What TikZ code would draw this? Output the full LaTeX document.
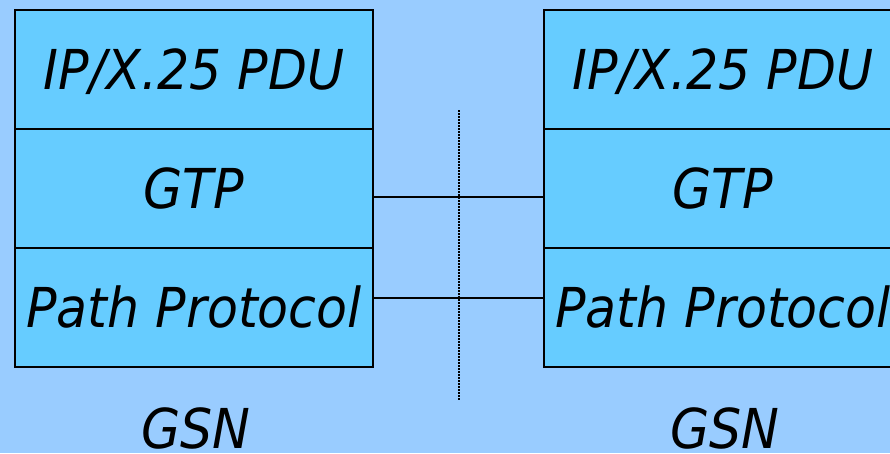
\documentclass[tikz,border=0pt]{standalone}
\usepackage{fontspec}
\setmainfont{DejaVu Sans}[FakeStretch=0.92]
\usepackage{tikz}
\definecolor{bgblue}{HTML}{99CCFF}
\definecolor{boxblue}{HTML}{66CCFF}

\begin{document}
\begin{tikzpicture}[x=1pt,y=-1pt,
	layer/.style={shape=rectangle,draw=black,line width=2.2pt,fill=boxblue,minimum width=358pt,minimum height=119pt,inner sep=0pt,text height=40pt,text depth=0pt,font=\fontsize{55}{60}\selectfont\itshape},
	lbl/.style={font=\fontsize{55}{60}\selectfont\itshape,inner sep=0pt,anchor=base}]
	
	\clip (0,0) rectangle (890,453);
	\fill[bgblue] (0,0) rectangle (890,453);
	
	\node[layer] (pduL) at (194, 69.5)     {IP/X.25 PDU};
	\node[layer] (gtpL) at (194, 188.5)    {GTP};
	\node[layer] (pathL) at (194, 307.5)   {Path Protocol};
	\node[layer] (pduR) at (723, 69.5)     {IP/X.25 PDU};
	\node[layer] (gtpR) at (723, 188.5)    {GTP};
	\node[layer] (pathR) at (723, 307.5)   {Path Protocol};
	
	\node[lbl] (gsnL) at (196, 448)     {GSN};
	\node[lbl] (gsnR) at (725, 448)     {GSN};
	
	\coordinate (sepTop) at (459, 110);
	\coordinate (sepBot) at (459, 400);
	
	\path[-, line width=2.2pt] ([yshift=-8.5pt]gtpL.east) edge ([yshift=-8.5pt]gtpR.west);
	\path[-, line width=2.2pt] ([yshift=9.5pt]pathL.east) edge ([yshift=9.5pt]pathR.west);
	\path[-, line width=2pt, dash pattern=on 1.5pt off 1.5pt] (sepTop) edge (sepBot);
	
\end{tikzpicture}
\end{document}
